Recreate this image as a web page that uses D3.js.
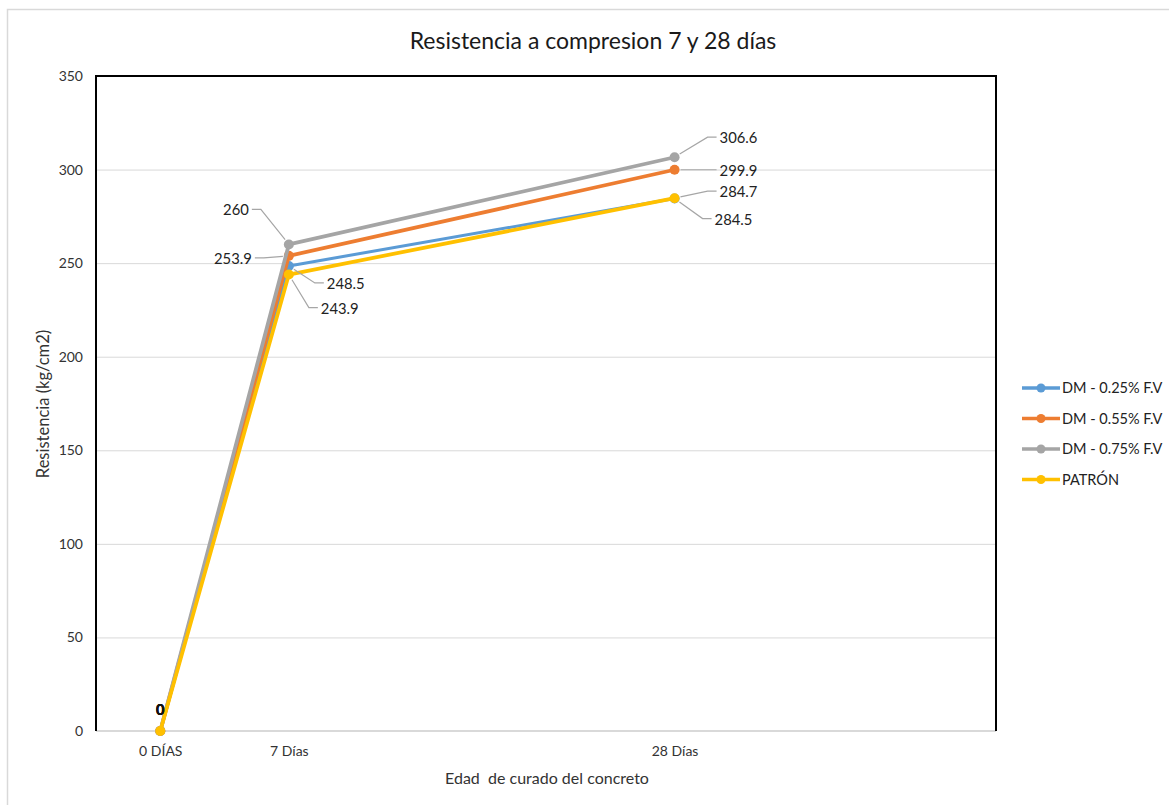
<!DOCTYPE html>
<html>
<head>
<meta charset="utf-8">
<script src="https://cdn.jsdelivr.net/npm/d3@7"></script>
<style>
  html, body { margin: 0; padding: 0; background: #fff; }
  svg { display: block; font-family: Lato, "Open Sans", sans-serif; }
</style>
</head>
<body>
<svg id="chart" width="1169" height="805"></svg>
<script>
// Curing ages (days) and their axis labels
const ages = [0, 7, 28];
const ageLabels = ["0 DÍAS", "7 Días", "28 Días"];

// Compressive strength (kg/cm2) per mix
const seriesNames = ["DM - 0.25% F.V", "DM - 0.55% F.V", "DM - 0.75% F.V", "PATRÓN"];
const dm025 = [0, 248.5, 284.5];
const dm055 = [0, 253.9, 299.9];
const dm075 = [0, 260, 306.6];
const patron = [0, 243.9, 284.7];

const yTicks = [0, 50, 100, 150, 200, 250, 300, 350];

const colors = ["#5B9BD5", "#ED7D31", "#A5A5A5", "#FFC000"];
const series = [dm025, dm055, dm075, patron].map((vals, i) => ({
  name: seriesNames[i], color: colors[i], values: vals
}));

// Where each data label sits relative to its point (leader end offset, text side)
const labelPlacement = [
  [{dx: 0, dy: -16, side: "none"}, {dx: 35, dy: 17, side: "right"}, {dx: 37, dy: 20, side: "right"}],
  [{dx: 0, dy: -16, side: "none"}, {dx: -34, dy: 2, side: "left"}, {dx: 42, dy: 0, side: "right"}],
  [{dx: 0, dy: -16, side: "none"}, {dx: -37, dy: -35, side: "left"}, {dx: 42, dy: -20, side: "right"}],
  [{dx: 0, dy: -16, side: "none"}, {dx: 29, dy: 33, side: "right"}, {dx: 42, dy: -7, side: "right"}]
];

const svg = d3.select("#chart");
const plot = {left: 96, top: 76, right: 996, bottom: 731};

const x = d3.scaleLinear().domain([-3.5, 45.5]).range([plot.left, plot.right]);
const y = d3.scaleLinear().domain([0, 350]).range([plot.bottom, plot.top]);

// Outer chart frame
svg.append("rect")
  .attr("x", 7.5).attr("y", 9.5).attr("width", 1200).attr("height", 900)
  .attr("fill", "#fff").attr("stroke", "#D9D9D9").attr("stroke-width", 1.5);

// Title
svg.append("text")
  .attr("x", 593).attr("y", 49)
  .attr("text-anchor", "middle")
  .attr("font-size", 23).attr("fill", "#1a1a1a")
  .text("Resistencia a compresion 7 y 28 días");

// Horizontal gridlines
svg.append("g")
  .selectAll("line").data(yTicks.filter(t => t > 0 && t < 350)).join("line")
  .attr("x1", plot.left).attr("x2", plot.right)
  .attr("y1", d => y(d) + 0.5).attr("y2", d => y(d) + 0.5)
  .attr("stroke", "#D9D9D9").attr("stroke-width", 1);

// Y axis labels
const yAxis = svg.append("g")
  .attr("transform", `translate(${plot.left},0)`)
  .call(d3.axisLeft(y).tickValues(yTicks).tickSize(0).tickPadding(13));
yAxis.select(".domain").remove();
yAxis.selectAll("text").attr("font-size", 14).attr("fill", "#333")
  .attr("font-family", "Lato, 'Open Sans', sans-serif");

// X axis (baseline + day labels)
const xAxis = svg.append("g")
  .attr("transform", `translate(0,${plot.bottom})`)
  .call(d3.axisBottom(x).tickValues(ages).tickFormat((d, i) => ageLabels[i]).tickSize(0).tickPadding(15));
xAxis.select(".domain").attr("stroke", "#D9D9D9").attr("stroke-width", 2)
  .attr("d", `M${plot.left},0H${plot.right}`);
xAxis.selectAll("text").attr("font-size", 14).attr("fill", "#333")
  .attr("font-family", "Lato, 'Open Sans', sans-serif");

// Plot area border (left, top, right)
svg.append("path")
  .attr("d", `M${plot.left},${plot.bottom}V${plot.top}H${plot.right}V${plot.bottom}`)
  .attr("fill", "none").attr("stroke", "#000").attr("stroke-width", 2);

// Axis titles
svg.append("text")
  .attr("x", 547).attr("y", 784)
  .attr("text-anchor", "middle").attr("font-size", 16).attr("fill", "#333")
  .style("white-space", "pre")
  .text("Edad  de curado del concreto");
svg.append("text")
  .attr("transform", "translate(49,404) rotate(-90)")
  .attr("text-anchor", "middle").attr("font-size", 16.5).attr("fill", "#333")
  .text("Resistencia (kg/cm2)");

// Series lines and markers
const line = d3.line().x((d, i) => x(ages[i])).y(d => y(d));
const sg = svg.append("g").selectAll("g").data(series).join("g");
sg.append("path")
  .attr("d", d => line(d.values))
  .attr("fill", "none").attr("stroke", d => d.color)
  .attr("stroke-width", d => d.name === "DM - 0.25% F.V" ? 3 : 3.75)
  .attr("stroke-linejoin", "round");
sg.selectAll("circle").data(d => d.values.map(v => ({v, c: d.color}))).join("circle")
  .attr("cx", (d, i) => x(ages[i])).attr("cy", d => y(d.v))
  .attr("r", 5).attr("fill", d => d.c);

// Data labels with leader lines
const lg = svg.append("g");
series.forEach((s, si) => {
  s.values.forEach((v, i) => {
    const p = labelPlacement[si][i];
    const px = x(ages[i]), py = y(v);
    const ex = px + p.dx, ey = py + p.dy;
    if (p.side === "none") {
      lg.append("text")
        .attr("x", ex).attr("y", ey).attr("text-anchor", "middle")
        .attr("font-size", 14.5).attr("font-weight", "bold").attr("fill", "#111")
        .text(v);
      return;
    }
    const dir = p.side === "right" ? 1 : -1;
    const elx = ex - dir * 9;
    const ang = Math.atan2(ey - py, elx - px);
    const sx = px + Math.cos(ang) * 6, sy = py + Math.sin(ang) * 6;
    lg.append("path")
      .attr("d", `M${sx},${sy}L${elx},${ey}L${ex},${ey}`)
      .attr("fill", "none").attr("stroke", "#A6A6A6").attr("stroke-width", 1.2);
    lg.append("text")
      .attr("x", ex + dir * 3).attr("y", ey + 6)
      .attr("text-anchor", dir > 0 ? "start" : "end")
      .attr("font-size", 14.8).attr("fill", "#222")
      .text(v);
  });
});

// Legend
const legend = svg.append("g").attr("transform", "translate(1022,388)");
const li = legend.selectAll("g").data(series).join("g")
  .attr("transform", (d, i) => `translate(0,${i * 30.5})`);
li.append("line").attr("x1", 0).attr("x2", 38).attr("y1", 0).attr("y2", 0)
  .attr("stroke", d => d.color).attr("stroke-width", 3.5);
li.append("circle").attr("cx", 19).attr("cy", 0).attr("r", 4.5).attr("fill", d => d.color);
li.append("text").attr("x", 40).attr("y", 5)
  .attr("font-size", 14.5).attr("fill", "#222").text(d => d.name);
</script>
</body>
</html>
